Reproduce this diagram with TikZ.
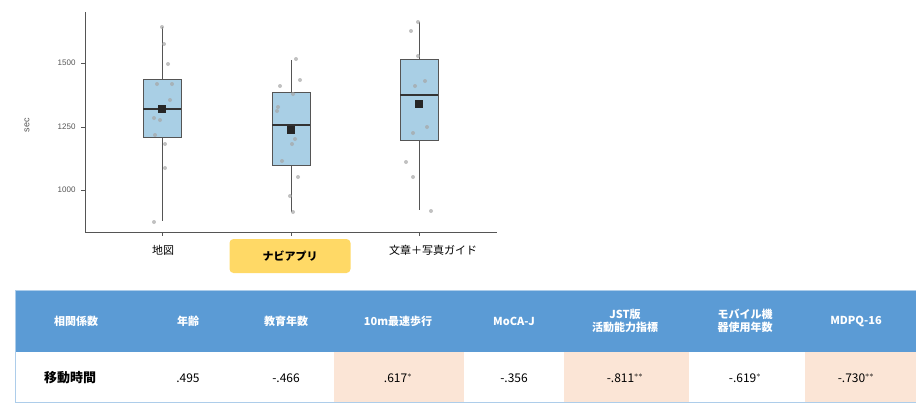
\documentclass[tikz,border=0pt]{standalone}
\usepackage{fontspec}
\setmainfont{Noto Sans CJK JP}
\newfontfamily\axf{Liberation Sans}
\definecolor{boxb}{HTML}{A9CFE5}
\definecolor{hdr}{HTML}{5B9BD5}
\definecolor{pk}{HTML}{FBE5D6}
\definecolor{yl}{HTML}{FFD966}
\definecolor{gr}{HTML}{555555}
\begin{document}
\begin{tikzpicture}[x=1pt,y=-1pt,
 bx/.style={draw=gr,fill=boxb,line width=0.8pt},
 pt/.style={fill=gray!70,draw=none,opacity=0.7},
 hd/.style={text=white,font=\bfseries\fontsize{11}{13}\selectfont,align=center},
 cv/.style={font=\fontsize{12}{14}\selectfont}]
\useasboundingbox (0,0) rectangle (916,405);
% axes
\draw[gr,line width=0.8pt] (85,12) coordinate (yt) -- (85,232) coordinate (o) -- (497,232) coordinate (xr);
\foreach \y/\l in {63/1500,127/1250,190/1000}{
 \draw[gr,line width=0.8pt] (81,\y) -- (85,\y);
 \node[anchor=east,font=\axf\fontsize{8}{9}\selectfont,text=gr] at (79,\y) {\l};}
\node[rotate=90,font=\axf\fontsize{9}{10}\selectfont,text=gr] at (27,125) {sec};
\foreach \x in {162,291,419} \draw[gr,line width=0.8pt] (\x,232) -- (\x,236);
% groups
\foreach \c/\t/\b/\m/\mn/\wt/\wb in {162/79/137/109/109/27/221, 291/92/165/125/130/60/212, 419/59/140/95/104/22/210}{
 \draw[gr,line width=0.8pt] (\c,\wt) -- (\c,\wb);
 \draw[bx] (\c-19,\t) rectangle (\c+19,\b);
 \draw[line width=1.2pt,black!80] (\c-19,\m) -- (\c+19,\m);
 \fill[black!85] (\c-4,\mn-4) rectangle (\c+4,\mn+4);}
\foreach \x/\y in {162/27,164/44,168/64,157/84,172/84,170/100,154/118,160/120,155/135,165/144,165/168,154/222,
296/59,280/86,300/80,293/94,278/107,277/111,295/139,292/144,282/161,298/177,290/196,293/212,
418/22,411/31,418/56,425/81,415/86,427/127,413/133,406/162,413/177,431/211}
 \fill[pt] (\x,\y) circle (2);
% x labels
\node[font=\fontsize{11}{13}\selectfont] (l1) at (163,250) {地図};
\node[fill=yl,rounded corners=4pt,minimum width=121,minimum height=34,font=\bfseries\fontsize{11}{13}\selectfont] (l2) at (290,256) {ナビアプリ};
\node[font=\fontsize{11}{13}\selectfont] (l3) at (433,250) {文章＋写真ガイド};
% table
\fill[hdr] (15,290) rectangle (916,352);
\fill[pk] (334,352) rectangle (464,402);
\fill[pk] (564,352) rectangle (689,402);
\fill[pk] (805,352) rectangle (916,402);
\draw[hdr!50,line width=0.6pt] (15,290) rectangle (916,402);
\foreach \x/\t in {76/相関係数,188/年齢,286/教育年数,398/10m最速歩行,514/MoCA-J,625/{JST版\\活動能力指標},745/{モバイル機\\器使用年数},856/MDPQ-16}
 \node[hd] at (\x,321) {\t};
\node[font=\bfseries\fontsize{13}{15}\selectfont] (r) at (70,378) {移動時間};
\foreach \x/\t in {188/.495,286/-.466,398/{.617$^{*}$},514/-.356,625/{-.811$^{**}$},745/{-.619$^{*}$},856/{-.730$^{**}$}}
 \node[cv] at (\x,378) {\t};
\end{tikzpicture}
\end{document}
